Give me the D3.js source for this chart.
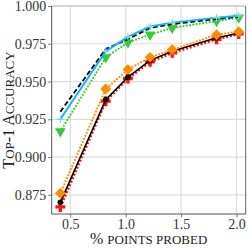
<!DOCTYPE html>
<html><head><meta charset="utf-8">
<script src="https://cdn.jsdelivr.net/npm/d3@7"></script>
<style>
html,body{margin:0;padding:0;background:#fff;}
svg text{font-family:'Liberation Serif','DejaVu Serif',serif;}
</style></head>
<body><svg id="c" width="249" height="249"></svg>
<script>
const xs = [0.41, 0.82, 1.02, 1.22, 1.42, 1.82, 2.02];
const redVals = [0.867, 0.937, 0.952, 0.963, 0.969, 0.978, 0.9815];
const blackVals = [0.870, 0.938, 0.953, 0.964, 0.970, 0.979, 0.982];
const orangeVals = [0.876, 0.945, 0.958, 0.966, 0.971, 0.981, 0.983];
const greenVals = [0.917, 0.966, 0.9758, 0.981, 0.9855, 0.990, 0.9923];
const dashedVals = [0.930, 0.9715, 0.978, 0.9855, 0.988, 0.9914, 0.9928];
const blueVals = [0.925, 0.970, 0.9796, 0.9865, 0.989, 0.9923, 0.9935];
const xTicks = [0.5, 1.0, 1.5, 2.0];
const yTicks = [0.875, 0.900, 0.925, 0.950, 0.975, 1.000];
// label pieces: [text, isSmallCap]
const yLabelParts = [["T", false], ["OP", true], ["-1 A", false], ["CCURACY", true]];
const xLabelParts = [["% ", false], ["POINTS PROBED", true]];

const W = 249, H = 249;
const m = {l: 51.7, r: 3.3, t: 6, b: 35};
const svg = d3.select("#c");
const x = d3.scaleLinear().domain([0.332, 2.083]).range([m.l, W - m.r]);
const y = d3.scaleLinear().domain([0.8623, 1.0]).range([H - m.b, m.t]);

// grid
const g = svg.append("g");
g.selectAll(".gx").data(xTicks).join("line")
  .attr("x1", d => x(d)).attr("x2", d => x(d)).attr("y1", m.t).attr("y2", H - m.b)
  .attr("stroke", "#dcdcdc").attr("stroke-width", 1.2);
g.selectAll(".gy").data(yTicks).join("line")
  .attr("y1", d => y(d)).attr("y2", d => y(d)).attr("x1", m.l).attr("x2", W - m.r)
  .attr("stroke", "#dcdcdc").attr("stroke-width", 1.2);

// axes
const fmtY = d3.format(".3f"), fmtX = d3.format(".1f");
const xa = svg.append("g").attr("transform", `translate(0,${H - m.b})`)
  .call(d3.axisBottom(x).tickValues(xTicks).tickFormat(fmtX).tickSize(3.5).tickPadding(2));
const ya = svg.append("g").attr("transform", `translate(${m.l},0)`)
  .call(d3.axisLeft(y).tickValues(yTicks).tickFormat(fmtY).tickSize(3.5).tickPadding(2));
[xa, ya].forEach(a => {
  a.attr("font-family", null).attr("font-size", 14);
  a.select(".domain").remove();
  a.selectAll(".tick line").attr("stroke", "#555").attr("stroke-width", 0.8);
  a.selectAll("text").attr("fill", "#333");
});

// frame
svg.append("line").attr("x1", m.l).attr("x2", W - m.r).attr("y1", m.t).attr("y2", m.t).attr("stroke", "#bbb").attr("stroke-width", 1.2);
svg.append("line").attr("x1", W - m.r).attr("x2", W - m.r).attr("y1", m.t).attr("y2", H - m.b).attr("stroke", "#666").attr("stroke-width", 1);
svg.append("line").attr("x1", m.l).attr("x2", m.l).attr("y1", m.t).attr("y2", H - m.b).attr("stroke", "#555").attr("stroke-width", 1);
svg.append("line").attr("x1", m.l).attr("x2", W - m.r).attr("y1", H - m.b).attr("y2", H - m.b).attr("stroke", "#555").attr("stroke-width", 1);

const plot = svg.append("g");
const line = d3.line().x(d => x(d[0])).y(d => y(d[1]));
function series(vals, color, width, dash) {
  const pts = xs.map((v, i) => [v, vals[i]]);
  plot.append("path").datum(pts).attr("d", line).attr("fill", "none")
    .attr("stroke", color).attr("stroke-width", width)
    .attr("stroke-dasharray", dash || null).attr("stroke-linecap", dash && dash.startsWith("0") ? "round" : "butt");
  return pts;
}
const sym = (type, size) => d3.symbol().type(type).size(size);

// red
const rp = series(redVals, "#ff1010", 2.6, "2,1.8");
plot.selectAll(".rm").data(rp).join("path").attr("d", sym(d3.symbolCross, 55))
  .attr("transform", d => `translate(${x(d[0])},${y(d[1])})`).attr("fill", "#ff1010");
// black solid
const bp = series(blackVals, "#000", 1.6);
plot.selectAll(".bm").data(bp).join("circle").attr("cx", d => x(d[0])).attr("cy", d => y(d[1])).attr("r", 2.8).attr("fill", "#000");
// orange dotted
const op = series(orangeVals, "#ff8c00", 2.2, "0,3.3");
plot.selectAll(".om").data(op).join("path").attr("d", sym(d3.symbolSquare, 60))
  .attr("transform", d => `translate(${x(d[0])},${y(d[1])}) rotate(45)`).attr("fill", "#ff8c00");
// green dotted
const gp = series(greenVals, "#33cc33", 2.2, "0,3.3");
plot.selectAll(".gm").data(gp).join("path").attr("d", sym(d3.symbolTriangle, 50))
  .attr("transform", d => `translate(${x(d[0])},${y(d[1])}) rotate(180)`).attr("fill", "#33cc33");
// black dashed
series(dashedVals, "#000", 1.8, "5,2.6");
// blue solid
const blp = series(blueVals, "#12b5f0", 2.0);
plot.selectAll(".blm").data(blp).join("path").attr("d", "M-3.5,0H3.5M0,-3.5V3.5")
  .attr("transform", d => `translate(${x(d[0])},${y(d[1])})`).attr("stroke", "#7fd3f5").attr("stroke-width", 1.2).attr("fill", "none");

// labels (manual small caps)
function smallCaps(t, parts) {
  t.selectAll("tspan").data(parts).join("tspan")
    .attr("font-size", d => d[1] ? 13 : 16).text(d => d[0]);
}
const yl = svg.append("text").attr("transform", `translate(14,${(m.t + H - m.b) / 2}) rotate(-90)`)
  .attr("text-anchor", "middle").attr("fill", "#222").style("white-space", "pre");
smallCaps(yl, yLabelParts);
const xl = svg.append("text").attr("x", (m.l + W - m.r) / 2).attr("y", 244)
  .attr("text-anchor", "middle").attr("fill", "#222").style("white-space", "pre");
smallCaps(xl, xLabelParts);
</script></body></html>
